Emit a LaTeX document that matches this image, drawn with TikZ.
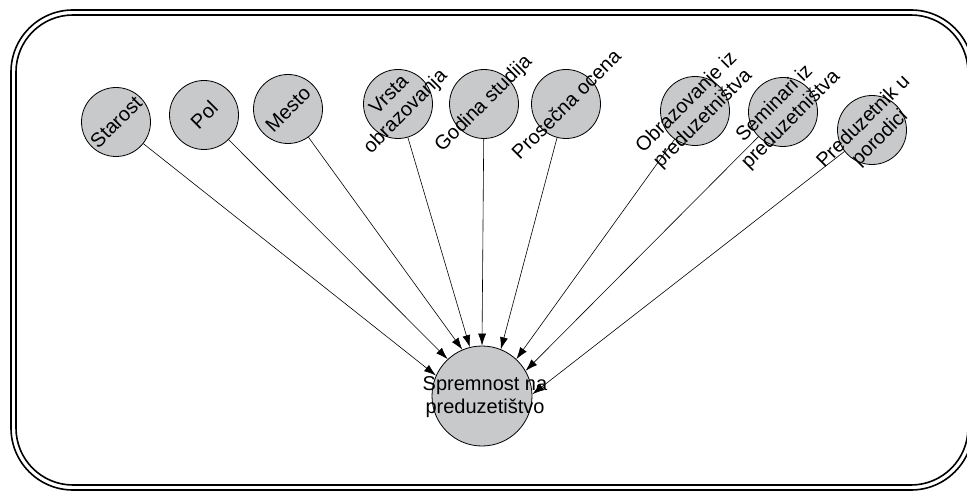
\documentclass[tikz,border=0pt]{standalone}
\usepackage{fontspec}
\setmainfont{Liberation Sans}
\usetikzlibrary{arrows.meta}
\definecolor{circgray}{RGB}{200,201,203}
\begin{document}
\begin{tikzpicture}[x=1pt,y=-1pt,
 circ/.style={circle,draw=black,line width=0.8pt,fill=circgray,minimum size=69pt,inner sep=0pt},
 bigcirc/.style={circ,minimum size=100pt},
 lbl/.style={rotate=45,align=center,font=\fontsize{20}{23}\selectfont,inner sep=0pt},
 txt/.style={align=center,font=\fontsize{20}{23}\selectfont,inner sep=0pt},
 conn/.style={line width=0.6pt,-{Latex[length=12pt,width=8pt]}},
 frameline/.style={line width=1.6pt}]
\clip (0,0) rectangle (967,492);
\draw[frameline,rounded corners=62pt] (11,10) rectangle (973,490);
\draw[frameline,rounded corners=57pt] (16,15) rectangle (968,485);

\node[circ] (starost) at (116,122) {};
\node[circ] (pol) at (204,115) {};
\node[circ] (mesto) at (288,109) {};
\node[circ] (vrsta) at (398,104) {};
\node[circ] (godina) at (484,104) {};
\node[circ] (prosecna) at (566,104) {};
\node[circ] (obraz) at (695,111) {};
\node[circ] (seminari) at (783,112) {};
\node[circ] (porodica) at (872,130) {};
\node[bigcirc] (sprem) at (482,396) {};

\node[lbl] (tstarost) at (starost) {Starost};
\node[lbl] (tpol) at (pol) {Pol};
\node[lbl] (tmesto) at (mesto) {Mesto};
\node[lbl] (tvrsta) at (vrsta) {Vrsta\\obrazovanja};
\node[lbl] (tgodina) at (godina) {Godina studija};
\node[lbl] (tprosecna) at (prosecna) {Prosečna ocena};
\node[lbl] (tobraz) at (obraz) {Obrazovanje iz\\preduzetništva};
\node[lbl] (tseminari) at (seminari) {Seminari iz\\preduzetništva};
\node[lbl] (tporodica) at (porodica) {Preduzetnik u\\porodici};
\node[txt] (tsprem) at (485,397) {Spremnost na\\preduzetištvo};

\draw[conn] (starost) -- (sprem.156);
\draw[conn] (pol) -- (sprem.133);
\draw[conn] (mesto) -- (sprem.113);
\draw[conn] (vrsta) -- (sprem.104);
\draw[conn] (godina) -- (sprem.90);
\draw[conn] (prosecna) -- (sprem.68);
\draw[conn] (obraz) -- (sprem.47);
\draw[conn] (seminari) -- (sprem.30);
\draw[conn] (porodica) -- (sprem.2);
\end{tikzpicture}
\end{document}
